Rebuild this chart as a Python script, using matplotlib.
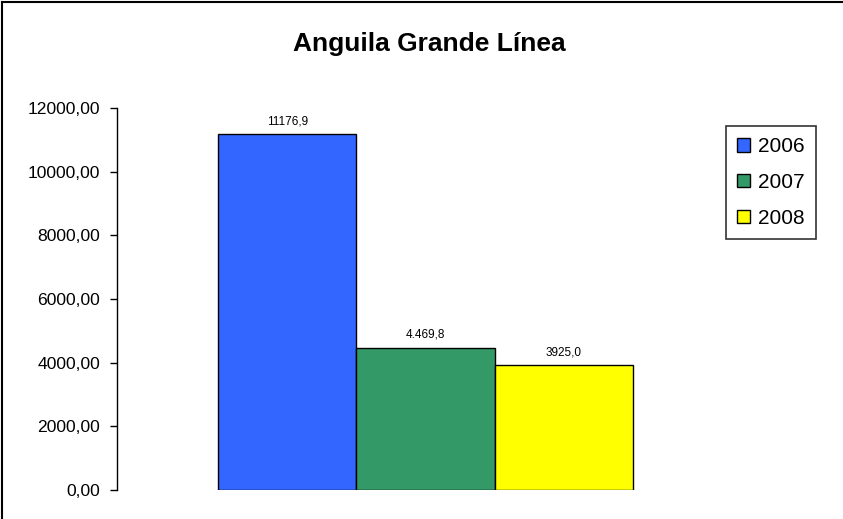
import matplotlib
matplotlib.use("Agg")
import matplotlib.pyplot as plt
from matplotlib.lines import Line2D
from matplotlib.ticker import FixedLocator

title = "Anguila Grande Línea"
years = ["2006", "2007", "2008"]
values = [11176.9, 4469.8, 3925.0]
value_labels = ["11176,9", "4.469,8", "3925,0"]
colors = ["#3366FF", "#339966", "#FFFF00"]
yticks = [0, 2000, 4000, 6000, 8000, 10000, 12000]
ytick_labels = ["0,00", "2000,00", "4000,00", "6000,00", "8000,00", "10000,00", "12000,00"]

plt.rcParams['font.family'] = ['Liberation Sans', 'DejaVu Sans']

W, H = 843, 519
fig = plt.figure(figsize=(W / 100, H / 100), dpi=100)
ax = fig.add_axes([117 / W, 1 - 490 / H, (734 - 117) / W, (490 - 108) / H])

positions = [-1, 0, 1]
for p, v, c, lab in zip(positions, values, colors, years):
    ax.bar(p, v, width=1.0, color=c, edgecolor="black", linewidth=1.0, label=lab)

for p, v, t in zip(positions, values, value_labels):
    ax.annotate(t, (p, v), xytext=(0, 5), textcoords="offset points",
                ha="center", va="bottom", fontsize=8.5)

ax.set_xlim(-2.23, 2.23)
ax.set_ylim(0, 12000)
ax.yaxis.set_major_locator(FixedLocator(yticks))
ax.set_yticklabels(ytick_labels, fontsize=12.6)
ax.set_xticks([])
for s in ["top", "right", "bottom"]:
    ax.spines[s].set_visible(False)
ax.spines["left"].set_linewidth(1.0)
ax.tick_params(axis="y", direction="out", length=5, width=1, pad=7)

fig.text(429 / W, 1 - 44 / H, title, ha="center", va="center", fontsize=19, fontweight="bold")

leg = fig.legend(loc="upper left", bbox_to_anchor=(726 / W, 1 - 126 / H),
                 fontsize=15, frameon=True, fancybox=False, edgecolor="black",
                 handlelength=0.6, handleheight=0.6, handletextpad=0.4,
                 labelspacing=0.8, borderpad=0.55, borderaxespad=0)
leg.get_frame().set_linewidth(1.2)

# chart area border (left and top visible)
fig.add_artist(Line2D([2 / W, 2 / W], [0, 1 - 2 / H], color="black", lw=1.5, transform=fig.transFigure))
fig.add_artist(Line2D([2 / W, 1], [1 - 2 / H, 1 - 2 / H], color="black", lw=1.5, transform=fig.transFigure))

fig.savefig("out.png", dpi=100)
